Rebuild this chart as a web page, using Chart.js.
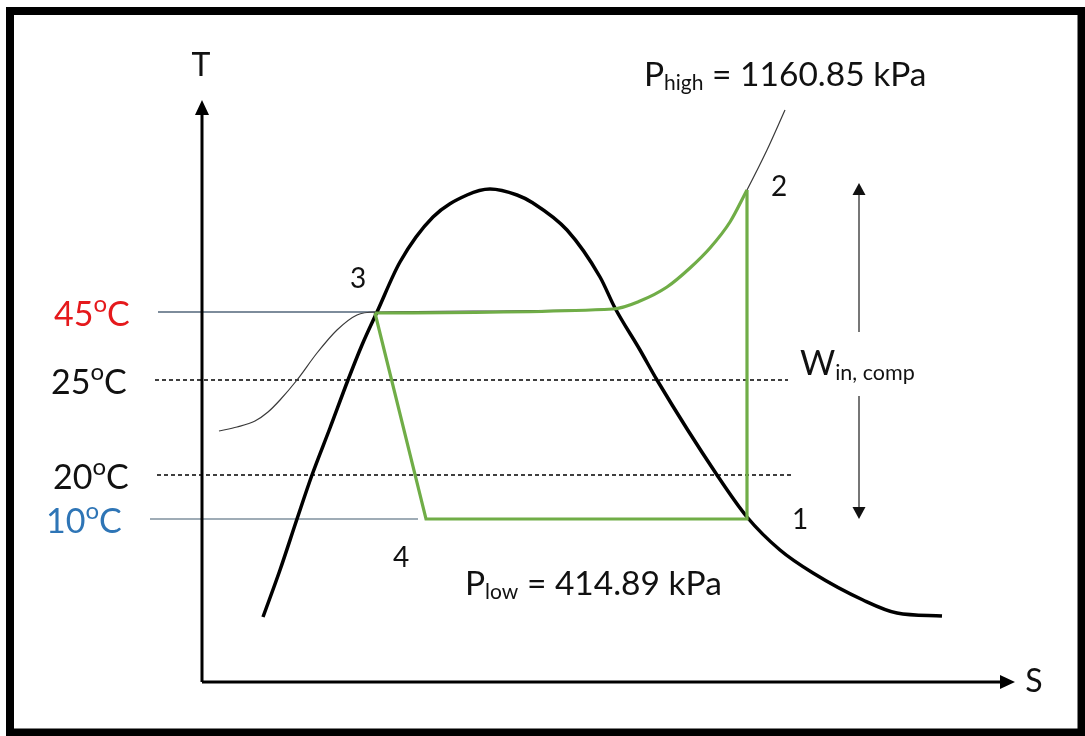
<!DOCTYPE html>
<html>
<head>
<meta charset="utf-8">
<script src="https://cdn.jsdelivr.net/npm/chart.js@4.4.1/dist/chart.umd.min.js"></script>
<style>
  html, body { margin: 0; padding: 0; background: #fff; overflow: hidden; }
  canvas { display: block; }
</style>
</head>
<body>
<canvas id="ts" width="1085" height="736" style="width:1085px;height:736px"></canvas>
<script>
// Vapour-compression refrigeration cycle sketched on a T–s diagram.
// Schematic units: s grows to the right of the T axis, T grows upward from the s axis.

// Saturation dome (liquid line, critical point, vapour line)
const domeCurve = [
  [61, 65], [78, 112], [95, 163], [110, 207], [128, 254], [146, 302], [160, 337],
  [175, 370], [198, 420], [231, 465], [265, 487], [288, 493], [315, 487], [331, 479],
  [365, 452], [398, 405], [413, 374], [438, 332], [455, 302], [515, 207],
  [545, 165], [578, 132], [611, 109], [661, 82], [695, 69], [740, 66]
];

// Constant-pressure line at P_high
const highIsobar = [
  [17, 251], [35, 255], [53, 261], [66, 270], [78, 282], [95, 302], [115, 329],
  [135, 352], [155, 367], [173, 370], [411, 373], [438, 381], [465, 395],
  [488, 414], [508, 434], [528, 460], [545, 492], [565, 532], [583, 572]
];

// Cycle: 3 -> saturated vapour -> 2 (heat rejection along P_high)
const cycleHighSide = [
  [173, 369], [411, 373], [438, 381], [465, 395], [488, 414], [508, 434], [528, 460], [545, 492]
];
// Cycle: 2 -> 1 (compression), 1 -> 4 (evaporation), 4 -> 3 (throttling)
const cycleLowSide = [[545, 492], [545, 163], [224, 163], [173, 369]];

// Temperature levels
const levelNames = ['45', '25', '20', '10'];
const levelT = [370, 302, 207, 163];
const levelStart = [-44, -47, -45, -52];
const levelEnd = [173, 586, 590, 216];

// State numbers and where they sit
const stateNames = ['1', '2', '3', '4'];
const stateS = [598, 577, 156, 199];
const stateT = [153, 486, 394, 115];

// Pressure labels
const pressureSub = ['high', 'low'];
const pressureValue = ['1160.85', '414.89'];
const pressureS = [442, 263];
const pressureT = [596, 87];

// Axes and compressor-work arrow
const axisEnd = { s: 813, T: 582 };
const workArrow = { s: 657, top: 499, upperFrom: 350, lowerFrom: 286, bottom: 163 };
const workSub = 'in, comp';

const pts = arr => arr.map(([x, y]) => ({ x, y }));
const FONT = 'Lato, "Open Sans", sans-serif';

const levelDatasets = levelT.map((t, i) => ({
  data: [{ x: levelStart[i], y: t }, { x: levelEnd[i], y: t }],
  borderColor: i === 0 ? '#52667a' : (i === 3 ? '#7f909e' : '#000'),
  borderWidth: 1.3,
  borderDash: i === 1 || i === 2 ? [4, 3] : [],
  tension: 0
}));

// Listed bottom layer first
const layers = [
  ...levelDatasets,
  { // T axis
    data: [{ x: 0, y: 0 }, { x: 0, y: axisEnd.T - 10 }],
    borderColor: '#000', borderWidth: 3, tension: 0
  },
  { // s axis
    data: [{ x: 0, y: 0 }, { x: axisEnd.s - 10, y: 0 }],
    borderColor: '#000', borderWidth: 3, tension: 0
  },
  { // work arrow, upper part
    data: [{ x: workArrow.s, y: workArrow.upperFrom }, { x: workArrow.s, y: workArrow.top - 8 }],
    borderColor: '#4a4a4a', borderWidth: 1.5, tension: 0
  },
  { // work arrow, lower part
    data: [{ x: workArrow.s, y: workArrow.lowerFrom }, { x: workArrow.s, y: workArrow.bottom + 8 }],
    borderColor: '#4a4a4a', borderWidth: 1.5, tension: 0
  },
  {
    data: pts(highIsobar),
    borderColor: '#3a3a3a', borderWidth: 1.2, cubicInterpolationMode: 'monotone'
  },
  {
    data: pts(domeCurve),
    borderColor: '#000', borderWidth: 3.5, cubicInterpolationMode: 'monotone'
  },
  {
    data: pts(cycleHighSide),
    borderColor: '#70ad47', borderWidth: 3.2, cubicInterpolationMode: 'monotone'
  },
  {
    data: pts(cycleLowSide),
    borderColor: '#70ad47', borderWidth: 3.2, tension: 0, borderJoinStyle: 'miter'
  }
];
// Chart.js paints the first dataset last, so hand them over top layer first
const datasets = layers.slice().reverse();

// Draw a run of text pieces (main text, subscripts, superscripts) from a baseline
function drawRich(ctx, x, y, pieces, align) {
  let total = 0;
  const widths = pieces.map(p => {
    ctx.font = p.size + 'px ' + FONT;
    const w = ctx.measureText(p.t).width;
    total += w;
    return w;
  });
  let cx = align === 'center' ? x - total / 2 : x;
  ctx.textAlign = 'left';
  ctx.textBaseline = 'alphabetic';
  pieces.forEach((p, i) => {
    ctx.font = p.size + 'px ' + FONT;
    ctx.fillStyle = p.color || '#111';
    ctx.fillText(p.t, cx, y + (p.dy || 0));
    cx += widths[i];
  });
}

function arrowHead(ctx, x, y, dir, len, half, color) {
  ctx.save();
  ctx.fillStyle = color;
  ctx.beginPath();
  if (dir === 'up') {
    ctx.moveTo(x, y); ctx.lineTo(x - half, y + len); ctx.lineTo(x + half, y + len);
  } else if (dir === 'down') {
    ctx.moveTo(x, y); ctx.lineTo(x - half, y - len); ctx.lineTo(x + half, y - len);
  } else {
    ctx.moveTo(x, y); ctx.lineTo(x - len, y - half); ctx.lineTo(x - len, y + half);
  }
  ctx.closePath();
  ctx.fill();
  ctx.restore();
}

const diagramDecor = {
  id: 'diagramDecor',
  beforeDraw(chart) {
    const ctx = chart.ctx;
    ctx.save();
    ctx.fillStyle = '#fff';
    ctx.fillRect(0, 0, chart.width, chart.height);
    ctx.restore();
  },
  afterDatasetsDraw(chart) {
    const ctx = chart.ctx;
    const sx = v => chart.scales.x.getPixelForValue(v);
    const ty = v => chart.scales.y.getPixelForValue(v);
    ctx.save();

    // Arrow heads
    arrowHead(ctx, sx(0), ty(axisEnd.T), 'up', 15, 7, '#000');
    arrowHead(ctx, sx(axisEnd.s), ty(0), 'right', 15, 7, '#000');
    arrowHead(ctx, sx(workArrow.s), ty(workArrow.top), 'up', 12, 6.5, '#111');
    arrowHead(ctx, sx(workArrow.s), ty(workArrow.bottom), 'down', 12, 6.5, '#111');

    // Axis names
    drawRich(ctx, sx(-1), ty(606), [{ t: 'T', size: 32 }], 'center');
    drawRich(ctx, sx(832), ty(-10), [{ t: 'S', size: 32 }], 'center');

    // Temperature level labels
    levelNames.forEach((n, i) => {
      const color = i === 0 ? '#e5191c' : (i === 3 ? '#2e75b6' : '#111');
      drawRich(ctx, sx(levelStart[i] - 104), ty(levelT[i] - 14), [
        { t: n, size: 34, color },
        { t: 'o', size: 24, dy: -14, color },
        { t: 'C', size: 34, color }
      ], 'left');
    });

    // State numbers
    stateNames.forEach((n, i) => {
      drawRich(ctx, sx(stateS[i]), ty(stateT[i]), [{ t: n, size: 28 }], 'center');
    });

    // Pressure labels
    pressureSub.forEach((sub, i) => {
      drawRich(ctx, sx(pressureS[i]), ty(pressureT[i]), [
        { t: 'P', size: 33.5 },
        { t: sub, size: 21, dy: 4 },
        { t: ' = ' + pressureValue[i] + ' kPa', size: 33.5 }
      ], 'left');
    });

    // Compressor work label
    drawRich(ctx, sx(workArrow.s - 59), ty(307), [
      { t: 'W', size: 34 },
      { t: workSub, size: 21.5, dy: 5 }
    ], 'left');

    // Frame
    ctx.strokeStyle = '#000';
    ctx.lineWidth = 8;
    ctx.strokeRect(10, 11, 1071.5, 721.5);
    ctx.restore();
  }
};

new Chart(document.getElementById('ts'), {
  type: 'scatter',
  data: { datasets: datasets.map(d => Object.assign({ showLine: true, pointRadius: 0, fill: false }, d)) },
  options: {
    responsive: false,
    devicePixelRatio: 1,
    animation: false,
    events: [],
    layout: { padding: 0 },
    scales: {
      x: { type: 'linear', display: false, min: -202, max: 883 },
      y: { type: 'linear', display: false, min: -54, max: 682 }
    },
    plugins: { legend: { display: false }, tooltip: { enabled: false } }
  },
  plugins: [diagramDecor]
});
</script>
</body>
</html>
